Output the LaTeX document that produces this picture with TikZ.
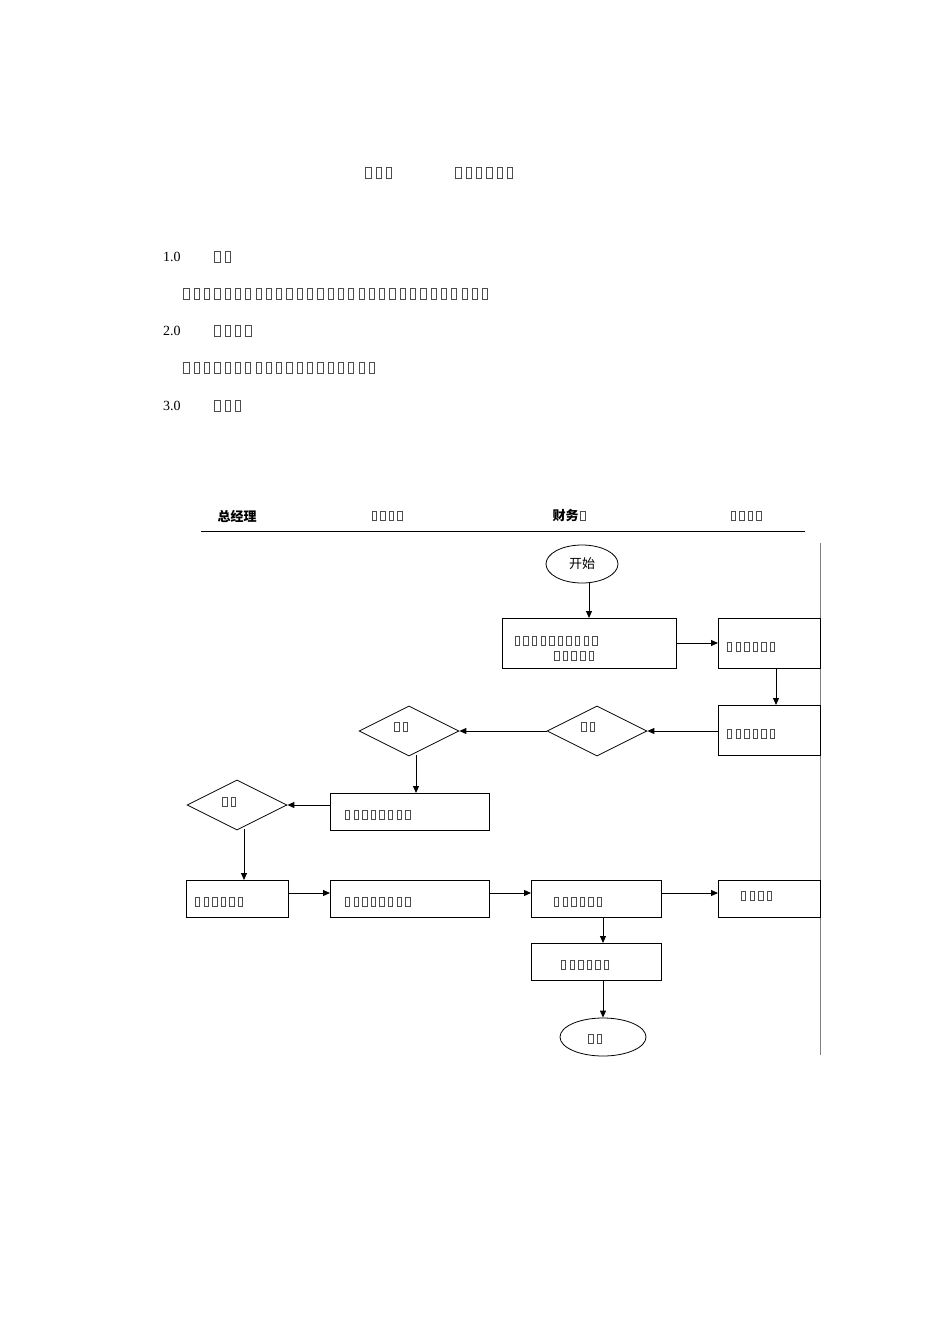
\documentclass[tikz,border=0pt]{standalone}
\usepackage{fontspec}
\newfontfamily\cjk{Noto Sans CJK SC}
\setmainfont{Liberation Serif}
\usetikzlibrary{shapes.geometric,arrows.meta}
\newlength\tfw \setlength\tfw{10.3pt}
\newlength\tfh \setlength\tfh{12pt}
\newcommand\tfg{\hbox to \tfw{\hss\color{black!70}\vrule width0.6pt\vbox to \tfh{\hrule width 0.45\tfw height0.6pt\vfill\hrule height0.6pt}\vrule width0.6pt\hss}}
\newcommand\tfs[1]{\foreach\i in {1,...,#1}{\tfg}}
\newcommand\dtf{\setlength\tfw{8.6pt}\setlength\tfh{10pt}}
\begin{document}
\begin{tikzpicture}[x=1pt,y=-1pt,
 box/.style={draw,line width=0.8pt,inner sep=0},
 dia/.style={draw,diamond,aspect=2,line width=0.8pt},
 arr/.style={-{Triangle[length=7pt,width=6pt]},line width=1pt},
 t/.style={inner sep=0,anchor=west},
 bt/.style={inner sep=0,anchor=west,font=\fontsize{14}{16}\selectfont}]
\useasboundingbox (0,0) rectangle (950,1344);
% heading text
\node[t] (ti1) at (363,173) {\tfs{3}};
\node[t] (ti2) at (453,173) {\tfs{6}};
\node[bt] (n1) at (163,257) {1.0};
\node[t] (n1t) at (212,257) {\tfs{2}};
\node[t] (l1) at (181,294) {\tfs{30}};
\node[bt] (n2) at (163,331) {2.0};
\node[t] (n2t) at (212,331) {\tfs{4}};
\node[t] (l2) at (181,368) {\tfs{19}};
\node[bt] (n3) at (163,406) {3.0};
\node[t] (n3t) at (212,406) {\tfs{3}};
% header
\node[font=\cjk\fontsize{13}{15}\selectfont\bfseries,inner sep=0] (h1) at (237,516) {总经理};
\node[inner sep=0] (h2) at (387,516) {\dtf\tfs{4}};
\node[inner sep=0,font=\cjk\fontsize{13}{15}\selectfont\bfseries] (h3) at (570,516) {财务\dtf\tfs{1}};
\node[inner sep=0] (h4) at (746,516) {\dtf\tfs{4}};
\draw[line width=1pt] (201,531) -- (805,531);
\draw[black!50,line width=0.8pt] (820,543) -- (820,1055);
% flow
\node[draw,ellipse,minimum width=72,minimum height=38,line width=0.8pt,font=\cjk\fontsize{13}{15}\selectfont] (st) at (582,564) {开始};
\draw[box] (502,618) rectangle (676,668); \coordinate (b1) at (589,643);
\node[inner sep=0] at (556,641) {\dtf\tfs{10}};
\node[inner sep=0] at (574,656) {\dtf\tfs{5}};
\draw[box] (718,618) rectangle (820,668);
\node[t] (b2t) at (725,647) {\dtf\tfs{6}};
\draw[box] (718,705) rectangle (820,755);
\node[t] (b3t) at (725,734) {\dtf\tfs{6}};
\node[dia,minimum width=100,minimum height=50,inner sep=0] (d1) at (597,731) {};
\node[inner sep=0] at (588,727) {\dtf\tfs{2}};
\node[dia,minimum width=100,minimum height=50,inner sep=0] (d2) at (409,731) {};
\node[inner sep=0] at (401,727) {\dtf\tfs{2}};
\draw[box] (330,793) rectangle (489,830);
\node[t] at (343,815) {\dtf\tfs{8}};
\node[dia,minimum width=100,minimum height=50,inner sep=0] (d3) at (237,805) {};
\node[inner sep=0] at (229,802) {\dtf\tfs{2}};
\draw[box] (186,880) rectangle (288,917);
\node[t] at (193,902) {\dtf\tfs{6}};
\draw[box] (330,880) rectangle (489,917);
\node[t] at (343,902) {\dtf\tfs{8}};
\draw[box] (531,880) rectangle (661,917);
\node[t] at (552,902) {\dtf\tfs{6}};
\draw[box] (718,880) rectangle (820,917);
\node[t] at (739,896) {\dtf\tfs{4}};
\draw[box] (531,943) rectangle (661,980);
\node[t] at (559,965) {\dtf\tfs{6}};
\node[draw,ellipse,minimum width=86,minimum height=38,line width=0.8pt] (en) at (603,1037) {};
\node[inner sep=0] at (595,1039) {\dtf\tfs{2}};
% coordinates and arrows
\coordinate (s1) at (589,583); \coordinate (e1) at (589,618);
\draw[arr] (s1) -- (e1);
\coordinate (a2) at (676,643); \coordinate (b2) at (718,643); \draw[arr] (a2) -- (b2);
\coordinate (a3) at (776,668); \coordinate (b3) at (776,705); \draw[arr] (a3) -- (b3);
\coordinate (a4) at (718,731); \draw[arr] (a4) -- (d1.east);
\draw[arr] (d1.west) -- (d2.east);
\coordinate (a5) at (416,755); \coordinate (b5) at (416,793); \draw[arr] (a5) -- (b5);
\coordinate (a6) at (330,805); \draw[arr] (a6) -- (d3.east);
\coordinate (a7) at (244,829); \coordinate (b7) at (244,880); \draw[arr] (a7) -- (b7);
\coordinate (a8) at (288,893); \coordinate (b8) at (330,893); \draw[arr] (a8) -- (b8);
\coordinate (a9) at (489,893); \coordinate (b9) at (531,893); \draw[arr] (a9) -- (b9);
\coordinate (a10) at (661,893); \coordinate (b10) at (718,893); \draw[arr] (a10) -- (b10);
\coordinate (a11) at (603,917); \coordinate (b11) at (603,943); \draw[arr] (a11) -- (b11);
\coordinate (a12) at (603,980); \draw[arr] (a12) -- (en.north);
\end{tikzpicture}
\end{document}
